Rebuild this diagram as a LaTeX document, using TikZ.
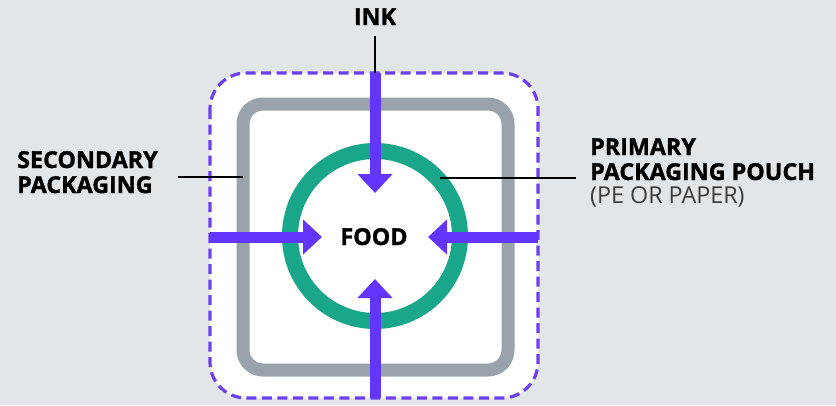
\documentclass[tikz,border=0pt]{standalone}
\usepackage{fontspec}
\setmainfont{Open Sans}
\usetikzlibrary{arrows.meta}
\definecolor{bg}{HTML}{E3E6E9}
\definecolor{dashc}{HTML}{6A40F2}
\definecolor{arrc}{HTML}{6236FF}
\definecolor{grayc}{HTML}{9AA3AC}
\definecolor{greenc}{HTML}{19A68A}
\definecolor{subc}{HTML}{3C3C3C}
\tikzset{
  lbl/.style={font=\fontsize{23.3}{25}\selectfont\bfseries\addfontfeature{FakeBold=1.4}, inner sep=0pt, text=black},
  sublbl/.style={font=\fontsize{23.3}{25}\selectfont, inner sep=0pt, text=subc},
  flow/.style={draw=arrc, line width=11pt, -{Triangle[width=34pt,length=19pt]}, arrc},
  leader/.style={draw=black, line width=1.3pt},
}
\begin{document}
\begin{tikzpicture}[x=1pt,y=-1pt]
\useasboundingbox (0,0) rectangle (836,405);
\fill[bg] (0,0) rectangle (836,405);
% secondary dashed outline
\draw[dashc, fill=white, line width=3.2pt, dash pattern=on 10pt off 5.5pt, rounded corners=36pt] (210,73) rectangle (538,398);
% grey box
\draw[grayc, line width=13pt, rounded corners=20pt] (243,104) rectangle (508,370);
% green circle
\draw[greenc, line width=16pt] (375,236) circle (85);
% coordinates
\coordinate (topin) at (375,73);
\coordinate (topfree) at (375,36);
\coordinate (leftin) at (210,237);
\coordinate (rightin) at (538,237);
\coordinate (botin) at (375,398);
\coordinate (ttip) at (375,193);
\coordinate (ltip) at (322,237);
\coordinate (rtip) at (428,237);
\coordinate (btip) at (375,279);
% leaders
\draw[leader] (topfree) -- (topin);
\coordinate (secA) at (178,177);
\coordinate (secB) at (243,177);
\draw[leader] (secA) -- (secB);
\coordinate (priA) at (440,178);
\coordinate (priB) at (576,178);
\draw[leader] (priA) -- (priB);
% arrows
\draw[flow] (topin) -- (ttip);
\draw[flow] (leftin) -- (ltip);
\draw[flow] (rightin) -- (rtip);
\draw[flow] (botin) -- (btip);
% labels
\node[lbl, anchor=base] (food) at (374,245) {FOOD};
\node[lbl, anchor=base] (ink) at (375,25) {INK};
\node[lbl, anchor=base west] (sec1) at (17,168) {SECONDARY};
\node[lbl, anchor=base west] (sec2) at (17,193) {PACKAGING};
\node[lbl, anchor=base west] (pri1) at (590,155) {PRIMARY};
\node[lbl, anchor=base west] (pri2) at (590,180) {PACKAGING POUCH};
\node[sublbl, anchor=base west] (pe) at (590,203) {(PE OR PAPER)};
\end{tikzpicture}
\end{document}
